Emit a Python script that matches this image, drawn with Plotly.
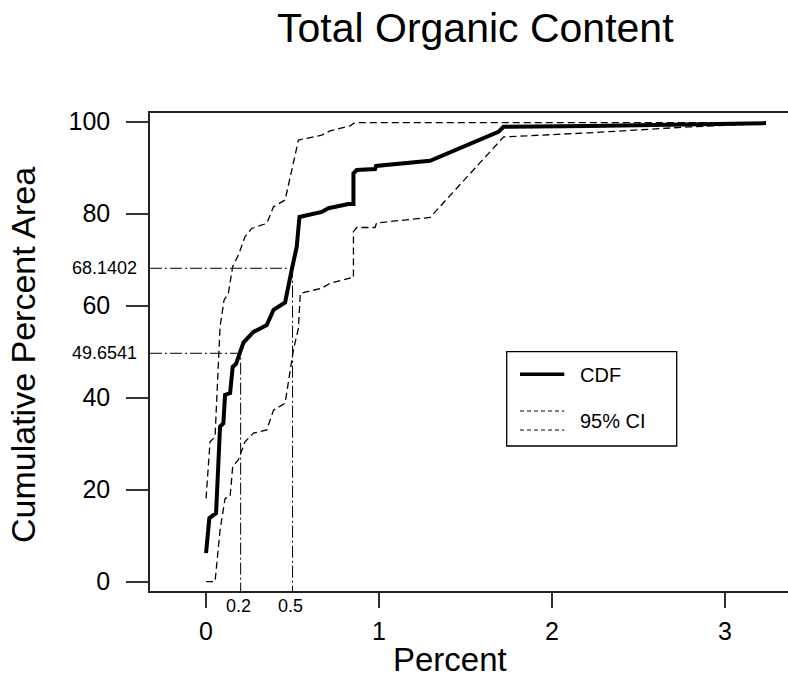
import plotly.graph_objects as go

# ---- data ----
cdf_x = [0, 0.019, 0.058, 0.081, 0.10, 0.11, 0.139, 0.154, 0.173, 0.216, 0.274, 0.351, 0.39, 0.457,
         0.495, 0.524, 0.54, 0.60, 0.669, 0.707, 0.823, 0.852, 0.852, 0.871, 0.977, 0.983, 1.295,
         1.69, 1.72, 2.22, 3.237]
cdf_y = [6.2, 13.8, 14.9, 33.7, 34.4, 40.6, 41.0, 46.7, 47.3, 52.0, 54.3, 55.8, 59.1, 60.7,
         67.8, 72.8, 79.3, 79.9, 80.4, 81.2, 82.1, 82.1, 88.8, 89.5, 89.7, 90.4, 91.5,
         97.8, 98.9, 99.1, 99.7]

upper_x = [0, 0.023, 0.052, 0.081, 0.104, 0.129, 0.154, 0.187, 0.225, 0.264, 0.351, 0.39, 0.457,
           0.534, 0.669, 0.717, 0.832, 0.861, 3.237]
upper_y = [18.1, 30.4, 31.5, 55.4, 61.2, 62.7, 68.5, 71.0, 75.0, 76.8, 77.9, 81.5, 83.0,
           96.0, 97.1, 98.0, 99.1, 99.8, 99.8]

lower_x = [0, 0.052, 0.081, 0.11, 0.139, 0.154, 0.187, 0.225, 0.274, 0.351, 0.39, 0.457, 0.505,
           0.534, 0.545, 0.669, 0.717, 0.832, 0.852, 0.852, 0.871, 0.977, 0.986, 1.295, 1.72,
           2.22, 2.8, 3.237]
lower_y = [0, 0, 11.2, 18.1, 18.5, 25.0, 26.5, 30.4, 32.3, 33.0, 37.3, 38.8, 50.4,
           55.1, 62.7, 63.8, 64.9, 66.0, 66.0, 76.1, 77.0, 77.0, 78.0, 79.2, 96.7,
           97.6, 98.9, 99.6]

ref_x = [0.2, 0.5]
ref_y = [49.6541, 68.1402]
ref_x_labels = ["0.2", "0.5"]
ref_y_labels = ["49.6541", "68.1402"]

x_ticks = [0, 1, 2, 3]
y_ticks = [0, 20, 40, 60, 80, 100]

x_range = [-0.324, 3.364]
y_range = [-2.03, 101.9]

FONT = "Liberation Sans, Arial, sans-serif"

fig = go.Figure()

# reference dash-dot lines
for rx, ry in zip(ref_x, ref_y):
    fig.add_trace(go.Scatter(
        x=[x_range[0], rx, rx], y=[ry, ry, y_range[0]], mode="lines",
        line=dict(color="black", width=1, dash="12px,3px,2px,3px"),
        showlegend=False, hoverinfo="skip"))

# confidence interval
fig.add_trace(go.Scatter(x=upper_x, y=upper_y, mode="lines",
                         line=dict(color="black", width=1.3, dash="7px,4px"),
                         showlegend=False))
fig.add_trace(go.Scatter(x=lower_x, y=lower_y, mode="lines",
                         line=dict(color="black", width=1.3, dash="7px,4px"),
                         showlegend=False))
# CDF
fig.add_trace(go.Scatter(x=cdf_x, y=cdf_y, mode="lines",
                         line=dict(color="black", width=4),
                         showlegend=False))

# pixel -> paper helpers
L, R, T, B = 150, 788, 113, 591
def px(x):
    return (x - L) / (R - L)
def py(y):
    return (B - y) / (B - T)

shapes = []
# legend box
shapes.append(dict(type="rect", xref="paper", yref="paper",
                   x0=px(506.7), x1=px(676.7), y0=py(446), y1=py(351.7),
                   line=dict(color="black", width=1.3), fillcolor="white", layer="above"))
shapes.append(dict(type="line", xref="paper", yref="paper",
                   x0=px(520), x1=px(564.3), y0=py(374.3), y1=py(374.3),
                   line=dict(color="black", width=3.5)))
for yy in (411, 430):
    shapes.append(dict(type="line", xref="paper", yref="paper",
                       x0=px(520), x1=px(564.3), y0=py(yy), y1=py(yy),
                       line=dict(color="black", width=1, dash="4px,3px")))

annotations = []
annotations.append(dict(text="CDF", xref="paper", yref="paper", x=px(578), y=py(375),
                        xanchor="left", yanchor="middle", showarrow=False,
                        font=dict(size=20, color="black", family=FONT)))
annotations.append(dict(text="95% CI", xref="paper", yref="paper", x=px(578), y=py(421),
                        xanchor="left", yanchor="middle", showarrow=False,
                        font=dict(size=20, color="black", family=FONT)))
# titles
annotations.append(dict(text="Total Organic Content", xref="paper", yref="paper",
                        x=px(475), y=py(28), xanchor="center", yanchor="middle",
                        showarrow=False, font=dict(size=41, color="black", family=FONT)))
annotations.append(dict(text="Percent", xref="paper", yref="paper",
                        x=px(450), y=py(659), xanchor="center", yanchor="middle",
                        showarrow=False, font=dict(size=33, color="black", family=FONT)))
annotations.append(dict(text="Cumulative Percent Area", xref="paper", yref="paper",
                        x=px(23), y=py(355), xanchor="center", yanchor="middle",
                        textangle=-90, showarrow=False,
                        font=dict(size=34, color="black", family=FONT)))
# small reference labels
for ry, lab in zip(ref_y, ref_y_labels):
    annotations.append(dict(text=lab, xref="paper", yref="y", x=px(139), y=ry,
                            xanchor="right", yanchor="middle", showarrow=False,
                            font=dict(size=18, color="black", family=FONT)))
for rx, lab in zip(ref_x, ref_x_labels):
    annotations.append(dict(text=lab, xref="x", yref="paper", x=rx, y=py(606),
                            xanchor="center", yanchor="middle", xshift=-2, showarrow=False,
                            font=dict(size=18, color="black", family=FONT)))

fig.update_layout(
    width=788, height=677,
    margin=dict(l=L, r=0, t=T, b=677 - B),
    paper_bgcolor="white", plot_bgcolor="white",
    font=dict(family=FONT, color="black"),
    shapes=shapes, annotations=annotations,
    showlegend=False,
    xaxis=dict(range=x_range, tickvals=x_ticks, ticktext=[str(v) for v in x_ticks],
               showgrid=False, zeroline=False, showline=True, mirror=True,
               linecolor="#222", linewidth=1.5, ticks="outside", ticklen=15,
               tickwidth=1.5, tickcolor="#333", ticklabelstandoff=2,
               tickfont=dict(size=25, family=FONT, color="black")),
    yaxis=dict(range=y_range, tickvals=y_ticks, ticktext=[str(v) for v in y_ticks],
               showgrid=False, zeroline=False, showline=True,
               linecolor="#222", linewidth=1.5, ticks="outside", ticklen=22,
               tickwidth=1.5, tickcolor="#333", ticklabelstandoff=11,
               tickfont=dict(size=25, family=FONT, color="black")),
)

fig.write_html("out.html")
